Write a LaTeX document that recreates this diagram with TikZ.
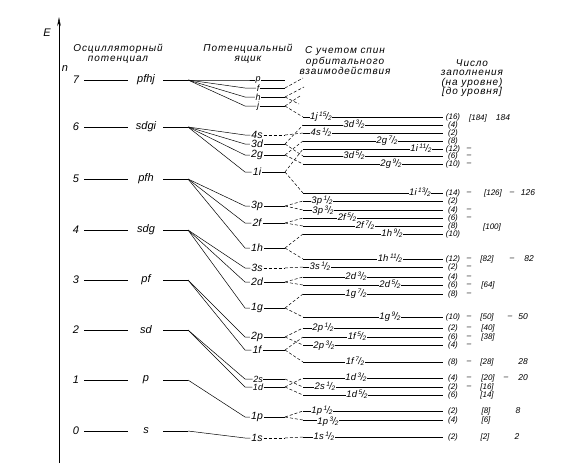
\documentclass[tikz,border=0pt]{standalone}
\usepackage{fontspec}
\setmainfont{Liberation Sans}
\newfontfamily\hdrfont[LetterSpace=9]{Liberation Sans}
\usetikzlibrary{arrows.meta}
\newcommand\fr[2]{\raisebox{0.55ex}{\fontsize{6.5}{6.5}\selectfont#1}\kern-0.05em/\kern-0.05em\raisebox{-0.3ex}{\fontsize{6.5}{6.5}\selectfont#2}}
\begin{document}
\begin{tikzpicture}[x=1pt,y=-1pt,
  thinline/.style={line width=0.5pt},
  solevel/.style={line width=0.9pt},
  sodash/.style={line width=0.5pt, dash pattern=on 3pt off 2pt},
  hdr/.style={font=\hdrfont\itshape\fontsize{10}{10.5}\selectfont, align=center, inner sep=0pt},
  shlab/.style={font=\itshape\fontsize{11}{12}\selectfont, inner sep=1pt},
  sublab/.style={font=\itshape\fontsize{10.5}{12}\selectfont, inner sep=1pt},
  smallsub/.style={font=\itshape\fontsize{9}{10}\selectfont, inner sep=0.5pt},
  solab/.style={font=\itshape\fontsize{9.5}{11}\selectfont, inner sep=0.6pt, fill=white, text height=6pt, text depth=0pt, anchor=base},
  numlab/.style={font=\itshape\fontsize{8}{9}\selectfont, inner sep=0.5pt},
]
\useasboundingbox (0,0) rectangle (586,464);

% axis
\coordinate (ax0) at (59,463);
\coordinate (ax1) at (59,17);
\draw[thinline,-{Stealth[length=9pt,width=3.5pt]}] (ax0) -- (ax1);
\node[shlab] (E) at (47,33) {E};
\node[shlab] (nn) at (65,69) {n};

% headers
\node[hdr] (h1) at (118,54) {Осцилляторный\\потенциал};
\node[hdr] (h2) at (248,54) {Потенциальный\\ящик};
\node[hdr] (h3) at (345,61) {С учетом спин\\орбитального\\взаимодействия};
\node[hdr, font=\hdrfont\itshape\fontsize{10}{9.5}\selectfont] (h4) at (472,78) {Число\\заполнения\\(на уровне)\\{[до уровня]}};

% oscillator levels
\foreach \n/\y/\t in {7/80/pfhj, 6/127/sdgi, 5/179/pfh, 4/230/sdg, 3/280/pf, 2/330/sd, 1/380/p, 0/431/s} {
  \node[shlab] (num\n) at (76,\y) {\n};
  \node[shlab] (osc\n) at (146,\y) {\t};
  \coordinate (l\n) at (84,\y);
  \coordinate (m\n) at (128,\y);
  \coordinate (k\n) at (163,\y);
  \coordinate (f\n) at (188,\y);
  \draw[thinline] (l\n) -- (m\n);
  \draw[thinline] (k\n) -- (f\n);
}

% potential well sublevels, crowded ones
\foreach \s/\n/\y in {p/7/80, f/7/88, h/7/97, j/7/106, 2s/2/379, 1d/2/387} {
  \node[smallsub] (s\s) at (258,\y) {\s};
  \draw[thinline] (f\n) -- (245,\y) -- (s\s.west);
  \coordinate (r\s) at (285,\y);
}
% potential well sublevels, other shells
\foreach \s/\n/\y in {4s/6/135, 3d/6/144, 2g/6/155, 1i/6/172,
  3p/5/206, 2f/5/223, 1h/5/248, 3s/4/268, 2d/4/282, 1g/4/308, 2p/3/337, 1f/3/350,
  1p/1/417, 1s/0/438} {
  \node[sublab] (s\s) at (257,\y) {\s};
  \draw[thinline] (f\n) -- (245,\y) -- (s\s.west);
  \coordinate (r\s) at (285,\y);
}
\foreach \s in {p,f,h,j,3d,2g,1i,3p,2f,1h,2d,1g,2p,1f,2s,1d,1p}
  \draw[thinline] (s\s.east) -- (r\s);
\foreach \s in {4s,3s,1s}
  \draw[sodash] (s\s.east) -- (r\s);

% dangling splits of the n=7 shell
\coordinate (df) at (303,78);
\coordinate (dh1) at (304,87);
\coordinate (dh2) at (299,104);
\coordinate (dj) at (300,96);
\draw[sodash] (rf) -- (df);
\draw[sodash] (rh) -- (dh1);
\draw[sodash] (rh) -- (dh2);
\draw[sodash] (rj) -- (dj);

% spin-orbit levels
\foreach \s/\y/\lx/\ly/\lab/\N/\d in {
  j/117/321/2/{1j\,\fr{15}{2}}/16/0,
  3d/125/354/2/{3d\,\fr{3}{2}}/4/0,
  4s/133/321/2/{4s\,\fr{1}{2}}/2/0,
  2g/141/387/2/{2g\,\fr{7}{2}}/8/0,
  1i/149/421/2/{1i\,\fr{11}{2}}/12/1,
  3d/156/354/2/{3d\,\fr{5}{2}}/6/1,
  2g/164/391/2/{2g\,\fr{9}{2}}/10/1,
  1i/193/420/2/{1i\,\fr{13}{2}}/14/1,
  3p/201/322/2/{3p\,\fr{1}{2}}/2/0,
  3p/210/323/3/{3p\,\fr{3}{2}}/4/1,
  2f/218/347/2/{2f\,\fr{5}{2}}/6/1,
  2f/226/365/2/{2f\,\fr{7}{2}}/8/0,
  1h/234/392/2/{1h\,\fr{9}{2}}/10/0,
  1h/259/390/2/{1h\,\fr{11}{2}}/12/1,
  3s/267/320/2/{3s\,\fr{1}{2}}/2/1,
  2d/277/356/2/{2d\,\fr{3}{2}}/4/1,
  2d/285/390/2/{2d\,\fr{5}{2}}/6/1,
  1g/294/356/2/{1g\,\fr{7}{2}}/8/1,
  1g/317/390/2/{1g\,\fr{9}{2}}/10/1,
  2p/328/323/2/{2p\,\fr{1}{2}}/2/1,
  1f/337/357/2/{1f\,\fr{5}{2}}/6/1,
  2p/345/324/3/{2p\,\fr{3}{2}}/4/1,
  1f/362/355/2/{1f\,\fr{7}{2}}/8/1,
  1d/378/356/2/{1d\,\fr{3}{2}}/4/1,
  2s/387/325/2/{2s\,\fr{1}{2}}/2/1,
  1d/395/357/2/{1d\,\fr{5}{2}}/6/0,
  1p/411/322/2/{1p\,\fr{1}{2}}/2/0,
  1p/420/328/4/{1p\,\fr{3}{2}}/4/0,
  1s/437/324/2/{1s\,\fr{1}{2}}/2/0} {
  \coordinate (a\y) at (303,\y);
  \coordinate (b\y) at (443,\y);
  \draw[sodash] (r\s) -- (a\y);
  \draw[solevel] (a\y) -- (b\y);
  \node[solab] (L\y) at (\lx,\y+\ly) {\lab};
  \node[numlab] (N\y) at (453,\y) {(\N)};
  \ifnum\d=1 \node[numlab] (D\y) at (469,\y) {–};\fi
}

% cumulative numbers
\foreach \y/\x/\t in {118/478/{[184]}, 193/493/{[126]}, 227/492/{[100]}, 259/487/{[82]},
  285/488/{[64]}, 317/487/{[50]}, 328/488/{[40]}, 337/488/{[38]}, 362/487/{[28]},
  378/488/{[20]}, 387/487/{[16]}, 395/487/{[14]}, 411/486/{[8]}, 420/486/{[6]}, 437/485/{[2]}}
  \node[numlab] (B\y) at (\x,\y) {\t};

% magic numbers
\foreach \y/\x/\t in {118/503/184, 193/528/126, 259/529/82, 317/523/50, 362/523/28, 378/523/20, 411/518/8, 437/517/2}
  \node[numlab, font=\itshape\fontsize{8.5}{9}\selectfont] (M\y) at (\x,\y) {\t};
\foreach \y/\x in {193/512, 259/512, 317/510, 378/506}
  \node[numlab] (MD\y) at (\x,\y) {–};
\end{tikzpicture}
\end{document}
